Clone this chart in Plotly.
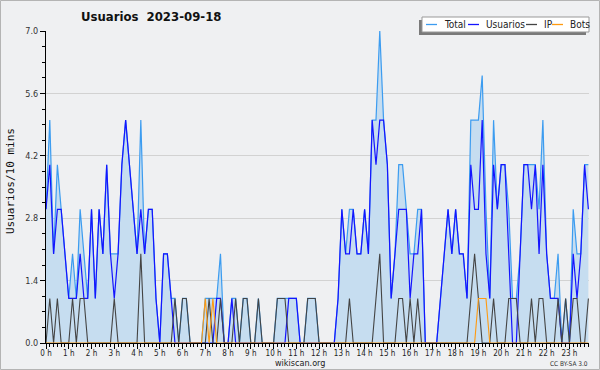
import plotly.graph_objects as go

# ---- data (values per 10-minute slot, 144 slots) ----
usuarios = [3, 4, 2, 3, 3, 2, 1, 1, 1, 2,
            1, 1, 3, 1, 3, 2, 4, 2, 1, 2,
            4, 5, 4, 3, 2, 3, 2, 3, 3, 1,
            0, 2, 2, 1, 0, 0, 0, 0, 0, 0,
            0, 0, 0, 0, 0, 1, 1, 0, 0, 1,
            0, 0, 0, 0, 0, 0, 0, 0, 0, 0,
            0, 0, 0, 0, 1, 1, 1, 0, 0, 0,
            0, 0, 0, 0, 0, 0, 0, 1, 3, 2,
            2, 3, 2, 2, 3, 2, 5, 4, 5, 5,
            4, 1, 2, 3, 3, 3, 1, 2, 2, 3,
            0, 0, 0, 0, 1, 2, 3, 2, 3, 2,
            2, 1, 4, 3, 3, 5, 2, 1, 4, 3,
            4, 4, 2, 0, 0, 2, 4, 4, 3, 4,
            2, 4, 2, 1, 1, 1, 0, 0, 0, 2,
            1, 2, 4, 3]

ip = [0, 1, 0, 1, 0, 0, 0, 1, 0, 1,
      1, 0, 0, 0, 0, 0, 0, 0, 1, 0,
      0, 0, 0, 0, 0, 2, 0, 0, 0, 0,
      0, 0, 0, 0, 1, 0, 1, 1, 0, 0,
      0, 0, 0, 1, 0, 0, 1, 0, 0, 0,
      1, 0, 1, 1, 0, 0, 1, 0, 0, 0,
      0, 1, 1, 1, 0, 0, 0, 0, 0, 1,
      1, 1, 0, 0, 0, 0, 0, 0, 0, 0,
      1, 0, 0, 0, 0, 0, 0, 1, 2, 0,
      0, 0, 0, 1, 1, 0, 1, 0, 1, 0,
      0, 0, 0, 0, 0, 0, 0, 0, 0, 0,
      0, 0, 1, 2, 1, 0, 0, 0, 1, 0,
      0, 0, 1, 1, 1, 0, 0, 0, 1, 0,
      1, 1, 0, 0, 0, 1, 0, 1, 0, 1,
      1, 0, 0, 1]

bots = [0] * 42 + [1, 0, 1] + [0] * 69 + [1, 1, 1] + [0] * 27

total = [3, 5, 2, 4, 3, 2, 1, 2, 1, 3,
         2, 1, 3, 1, 3, 2, 4, 2, 2, 2,
         4, 5, 4, 3, 2, 5, 2, 3, 3, 1,
         0, 2, 2, 1, 1, 0, 1, 1, 0, 0,
         0, 0, 1, 1, 1, 1, 2, 0, 0, 1,
         1, 0, 1, 1, 0, 0, 1, 0, 0, 0,
         0, 1, 1, 1, 1, 1, 1, 0, 0, 1,
         1, 1, 0, 0, 0, 0, 0, 1, 3, 2,
         3, 3, 2, 2, 3, 2, 5, 5, 7, 5,
         4, 1, 2, 4, 4, 3, 2, 2, 3, 3,
         0, 0, 0, 0, 1, 2, 3, 2, 3, 2,
         2, 1, 5, 5, 5, 6, 3, 1, 5, 3,
         4, 4, 3, 1, 1, 2, 4, 4, 4, 4,
         3, 5, 2, 1, 1, 2, 0, 1, 0, 3,
         2, 2, 4, 4]

hours = list(range(24))
hour_labels = [f"{h} h" for h in hours]
y_ticks = [0.0, 1.4, 2.8, 4.2, 5.6, 7.0]

slots = [i / 6 for i in range(len(total))]

# ---- layout geometry ----
W, H = 600, 370
L, R, T, B = 46, 11, 31, 27
PW, PH = W - L - R, H - T - B


def pxx(p):
    return (p - L) / PW


def pxy(p):
    return (H - B - p) / PH


BG = "#eff0f2"
FONT = "DejaVu Sans Condensed, Liberation Sans Narrow, DejaVu Sans"

fig = go.Figure()
fig.add_trace(go.Scatter(x=slots, y=total, name="Total", mode="lines",
                         line=dict(color="#3c9cf0", width=1.2),
                         fill="tozeroy", fillcolor="#c6ddf0"))
fig.add_trace(go.Scatter(x=slots, y=usuarios, name="Usuarios", mode="lines",
                         line=dict(color="#1414ff", width=1.2)))
fig.add_trace(go.Scatter(x=slots, y=ip, name="IP", mode="lines",
                         line=dict(color="#444444", width=1.1)))
fig.add_trace(go.Scatter(x=slots, y=bots, name="Bots", mode="lines",
                         line=dict(color="#ff9a10", width=1.1)))

shapes = []
ann = []

# outer border
shapes.append(dict(type="rect", xref="paper", yref="paper",
                   x0=pxx(0.5), x1=pxx(599.5), y0=pxy(369.5), y1=pxy(0.5),
                   line=dict(color="#b4b4b4", width=1), layer="below"))

# manual legend (shadow + box)
shapes.append(dict(type="rect", xref="paper", yref="paper",
                   x0=pxx(419), x1=pxx(586), y0=pxy(35), y1=pxy(20),
                   line=dict(width=0), fillcolor="#7a7a7a"))
shapes.append(dict(type="rect", xref="paper", yref="paper",
                   x0=pxx(422), x1=pxx(589), y0=pxy(32), y1=pxy(17),
                   line=dict(color="#999999", width=1), fillcolor="#ffffff"))
leg = [("Total", "#3c9cf0", 426, 437, 442),
       ("Usuarios", "#1414ff", 468, 479, 484),
       ("IP", "#444444", 526, 537, 542),
       ("Bots", "#ff9a10", 552, 563, 568)]
for name, col, a, b, t in leg:
    shapes.append(dict(type="line", xref="paper", yref="paper",
                       x0=pxx(a), x1=pxx(b), y0=pxy(24.5), y1=pxy(24.5),
                       line=dict(color=col, width=1.3)))
    ann.append(dict(text=name, xref="paper", yref="paper", x=pxx(t), y=pxy(24.5),
                    xanchor="left", yanchor="middle", showarrow=False,
                    font=dict(family=FONT, size=10, color="#222")))

# title
ann.append(dict(text="<b>Usuarios  2023-09-18</b>", xref="paper", yref="paper",
                x=pxx(151), y=pxy(17), xanchor="center", yanchor="middle",
                showarrow=False, font=dict(family=FONT, size=13, color="#111")))
# y axis title
ann.append(dict(text="Usuarios/10 mins", xref="paper", yref="paper",
                x=pxx(10), y=pxy(181), textangle=-90, xanchor="center",
                yanchor="middle", showarrow=False,
                font=dict(family="DejaVu Sans Mono", size=11, color="#111")))
# footer
ann.append(dict(text="wikiscan.org", xref="paper", yref="paper",
                x=pxx(300), y=pxy(363), xanchor="center", yanchor="middle",
                showarrow=False, font=dict(family=FONT, size=9, color="#222")))
ann.append(dict(text="CC BY-SA 3.0", xref="paper", yref="paper",
                x=pxx(590), y=pxy(364), xanchor="right", yanchor="middle",
                showarrow=False, font=dict(family=FONT, size=6.5, color="#333")))

fig.update_layout(
    width=W, height=H,
    margin=dict(l=L, r=R, t=T, b=B, pad=0),
    paper_bgcolor=BG, plot_bgcolor=BG,
    showlegend=False,
    shapes=shapes, annotations=ann,
    xaxis=dict(range=[0, 23.86], tickvals=hours, ticktext=hour_labels,
               automargin=False, ticklabelstandoff=-3,
               showgrid=False, zeroline=False, showline=True,
               linecolor="#000", linewidth=1, ticks="outside", ticklen=5,
               tickcolor="#000", tickangle=0,
               tickfont=dict(family=FONT, size=8, color="#222"),
               minor=dict(dtick=1 / 6, tick0=0, ticks="outside", ticklen=3,
                          tickcolor="#000", showgrid=False)),
    yaxis=dict(range=[0, 7], tickvals=y_ticks, tickformat=".1f",
               automargin=False,
               showgrid=True, gridcolor="#d2d2d2", gridwidth=1,
               zeroline=False, showline=True, linecolor="#000", linewidth=1,
               ticks="outside", ticklen=5, tickcolor="#000",
               tickfont=dict(family=FONT, size=9, color="#333"),
               minor=dict(dtick=0.35, tick0=0, ticks="outside", ticklen=3,
                          tickcolor="#000", showgrid=False)),
)

fig.write_html("out.html",
               config={"displayModeBar": False},
               post_script="document.body.style.margin='0';"
                           "document.body.style.padding='0';")
